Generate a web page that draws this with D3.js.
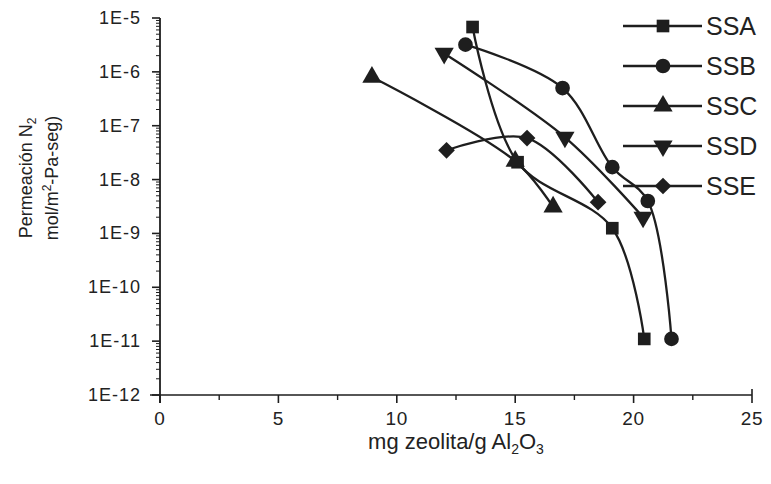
<!DOCTYPE html>
<html>
<head>
<meta charset="utf-8">
<script src="https://cdn.jsdelivr.net/npm/d3@7"></script>
<style>
  body { margin: 0; background: #fff; }
  text { font-family: "Liberation Sans", Arial, sans-serif; fill: #222; }
</style>
</head>
<body>
<div class="chart"></div>
<script>
// series (mg zeolita/g Al2O3 vs permeacion N2)
var names = ['SSA', 'SSB', 'SSC', 'SSD', 'SSE'];
var ssaX = [13.2, 15.1, 19.1, 20.45],      ssaY = [6.8e-6, 2.1e-8, 1.25e-9, 1.1e-11];
var ssbX = [12.9, 17.0, 19.1, 20.6, 21.6], ssbY = [3.2e-6, 5e-7, 1.7e-8, 4e-9, 1.1e-11];
var sscX = [8.95, 15.0, 16.6],             sscY = [8e-7, 2.2e-8, 3.1e-9];
var ssdX = [12.0, 17.1, 20.4],             ssdY = [2.2e-6, 6.1e-8, 2e-9];
var sseX = [12.1, 15.5, 18.5],             sseY = [3.5e-8, 5.9e-8, 3.8e-9];

var xTicks = [0, 5, 10, 15, 20, 25];
var xMinor = [2.5, 7.5, 12.5, 17.5, 22.5];
var yExp = [-5, -6, -7, -8, -9, -10, -11, -12];

var W = 771, H = 484, ink = '#1e1e1e';

var svg = d3.select('.chart').append('svg').attr('width', W).attr('height', H);

var x = d3.scaleLinear().domain([0, 25]).range([160, 752]);
var y = d3.scaleLog().domain([1e-12, 1e-5]).range([395, 18]);

// x axis
var gx = svg.append('g');
gx.append('line').attr('x1', 150).attr('x2', x(25)).attr('y1', y(1e-12)).attr('y2', y(1e-12))
    .attr('stroke', ink).attr('stroke-width', 1.6);
gx.selectAll('.xt').data(xTicks).enter().append('line')
    .attr('x1', d => x(d)).attr('x2', d => x(d))
    .attr('y1', d => d == 25 ? y(1e-12) - 6 : y(1e-12)).attr('y2', y(1e-12) + 8)
    .attr('stroke', ink).attr('stroke-width', 1.6);
gx.selectAll('.xm').data(xMinor).enter().append('line')
    .attr('x1', d => x(d)).attr('x2', d => x(d))
    .attr('y1', y(1e-12)).attr('y2', y(1e-12) + 5)
    .attr('stroke', ink).attr('stroke-width', 1.4);
gx.selectAll('.xl').data(xTicks).enter().append('text')
    .attr('x', d => x(d)).attr('y', 425)
    .attr('text-anchor', 'middle').style('font-size', '19px').style('letter-spacing', '0.8px')
    .text(d => d);

// y axis
var gy = svg.append('g');
gy.append('line').attr('x1', x(0)).attr('x2', x(0)).attr('y1', y(1e-5)).attr('y2', y(1e-12) + 8)
    .attr('stroke', ink).attr('stroke-width', 1.8);
var minor = [];
yExp.slice(1).forEach(function (e) {
  for (var k = 2; k <= 9; k++) minor.push(k * Math.pow(10, e));
});
gy.selectAll('.ym').data(minor).enter().append('line')
    .attr('x1', x(0) - 4).attr('x2', x(0))
    .attr('y1', d => y(d)).attr('y2', d => y(d))
    .attr('stroke', ink).attr('stroke-width', 1);
gy.selectAll('.yt').data(yExp).enter().append('line')
    .attr('x1', x(0) - 8).attr('x2', x(0))
    .attr('y1', d => y(Math.pow(10, d))).attr('y2', d => y(Math.pow(10, d)))
    .attr('stroke', ink).attr('stroke-width', 1.6);
gy.selectAll('.yl').data(yExp).enter().append('text')
    .attr('x', 141).attr('y', d => y(Math.pow(10, d)) + 6)
    .attr('text-anchor', 'end').style('font-size', '18px').style('letter-spacing', '1px')
    .text(d => '1E' + d);

// axis titles
var xt = svg.append('text').attr('x', 456).attr('y', 449).attr('text-anchor', 'middle')
    .style('font-size', '22px');
xt.append('tspan').text('mg zeolita/g Al');
xt.append('tspan').attr('dy', 5).style('font-size', '14px').text('2');
xt.append('tspan').attr('dy', -5).text('O');
xt.append('tspan').attr('dy', 5).style('font-size', '14px').text('3');

var yt = svg.append('g').attr('transform', 'translate(32,178) rotate(-90)');
var t1 = yt.append('text').attr('text-anchor', 'middle').style('font-size', '18px');
t1.append('tspan').text('Permeación N');
t1.append('tspan').attr('dy', 4).style('font-size', '12px').text('2');
var t2 = yt.append('text').attr('y', 26).attr('text-anchor', 'middle').style('font-size', '18px');
t2.append('tspan').text('mol/m');
t2.append('tspan').attr('dy', -7).style('font-size', '12px').text('2');
t2.append('tspan').attr('dy', 7).text('-Pa-seg)');

// series
var series = [
  { name: names[0], xs: ssaX, ys: ssaY, sym: d3.symbolSquare, size: 160, rot: 0 },
  { name: names[1], xs: ssbX, ys: ssbY, sym: d3.symbolCircle, size: 170, rot: 0 },
  { name: names[2], xs: sscX, ys: sscY, sym: d3.symbolTriangle, size: 160, rot: 0 },
  { name: names[3], xs: ssdX, ys: ssdY, sym: d3.symbolTriangle, size: 160, rot: 180 },
  { name: names[4], xs: sseX, ys: sseY, sym: d3.symbolSquare, size: 140, rot: 45 }
];

var line = d3.line()
    .x(d => x(d[0])).y(d => y(d[1]))
    .curve(d3.curveCatmullRom.alpha(0.5));

series.forEach(function (s) {
  var pts = s.xs.map((v, i) => [v, s.ys[i]]);
  svg.append('path').datum(pts).attr('d', line)
      .attr('fill', 'none').attr('stroke', ink).attr('stroke-width', 2.3);
  svg.selectAll(null).data(pts).enter().append('path')
      .attr('d', d3.symbol().type(s.sym).size(s.size))
      .attr('transform', d => 'translate(' + x(d[0]) + ',' + y(d[1]) + ') rotate(' + s.rot + ')')
      .attr('fill', ink);
});

// legend
var lg = svg.append('g');
series.forEach(function (s, i) {
  var ly = 26 + i * 40;
  lg.append('line').attr('x1', 623).attr('x2', 702).attr('y1', ly).attr('y2', ly)
      .attr('stroke', ink).attr('stroke-width', 2.4);
  lg.append('path')
      .attr('d', d3.symbol().type(s.sym).size(s.size))
      .attr('transform', 'translate(663,' + ly + ') rotate(' + s.rot + ')')
      .attr('fill', ink);
  lg.append('text').attr('x', 706).attr('y', ly + 9).style('font-size', '25px').text(s.name);
});
</script>
</body>
</html>
